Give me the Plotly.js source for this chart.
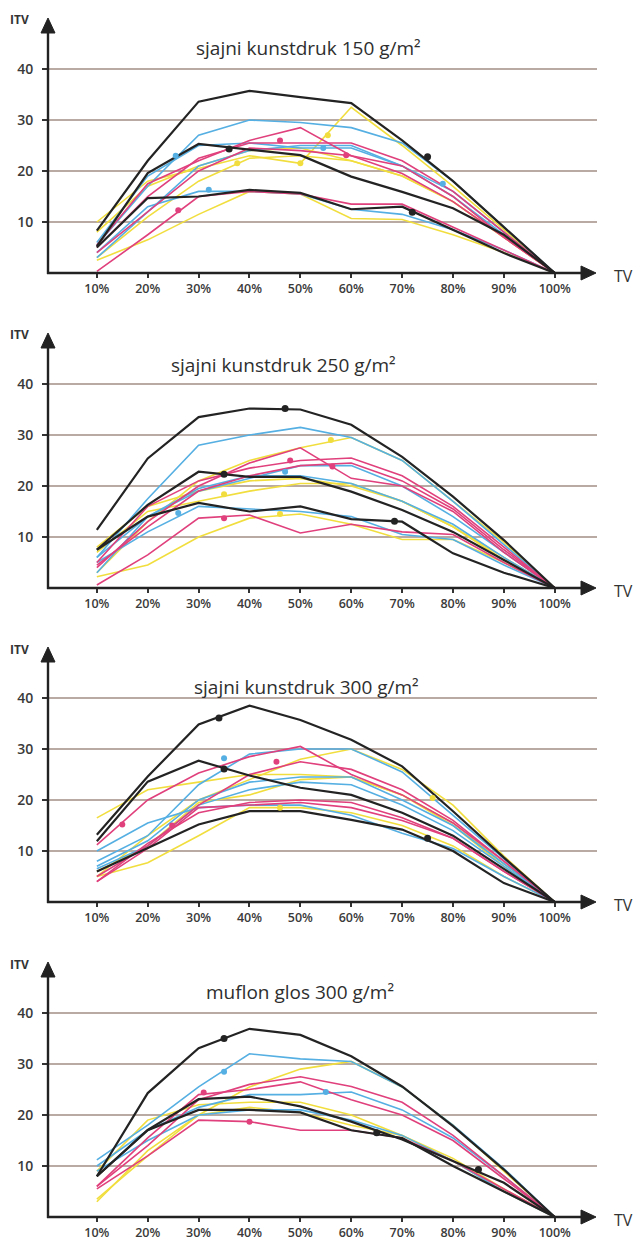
<!DOCTYPE html>
<html>
<head>
<meta charset="utf-8">
<script src="https://cdn.plot.ly/plotly-3.0.1.min.js"></script>
<style>html,body{margin:0;padding:0;background:#fff;}#chart{width:634px;height:1241px;}</style>
</head>
<body>
<div id="chart"></div>
<script>
// ---------- DATA ----------
const tvLevels = [10, 20, 30, 40, 50, 60, 70, 80, 90, 100];
const tvTickText = ['10%', '20%', '30%', '40%', '50%', '60%', '70%', '80%', '90%', '100%'];
const itvTicks = [10, 20, 30, 40];
const panelTitles = [
  'sjajni kunstdruk 150 g/m²',
  'sjajni kunstdruk 250 g/m²',
  'sjajni kunstdruk 300 g/m²',
  'muflon glos 300 g/m²'
];

// Panel 1 - sjajni kunstdruk 150 g/m2
const p1Black = [
  [8.3, 22, 33.6, 35.7, 34.5, 33.3, 26, 18, 9, 0],
  [5.2, 19.6, 25.3, 24.2, 23.1, 18.9, 15.9, 12.7, 7.5, 0],
  [5, 14.7, 15, 16.3, 15.7, 12.5, 13, 8.4, 3.9, 0]
];
const p1Cyan = [
  [5.5, 17, 27, 30, 29.5, 28.5, 25.5, 18, 9, 0],
  [6, 19, 25, 25.5, 24.5, 24.5, 21, 16, 8, 0],
  [4, 13, 16, 16, 15.5, 12.5, 11.5, 8.5, 4.5, 0],
  [3, 12, 21, 24, 25, 25, 21, 15, 7.5, 0]
];
const p1Magenta = [
  [5.5, 17.5, 22, 26, 28.5, 23, 21, 15, 7, 0],
  [5, 15, 22.5, 25.5, 25.5, 25.5, 22, 16, 8, 0],
  [0.3, 7.5, 15, 16, 15.5, 13.5, 13.5, 9, 4.5, 0],
  [4, 12, 20, 24.5, 24, 23, 19.5, 14, 7, 0]
];
const p1Yellow = [
  [10, 18, 20.5, 23, 21.5, 32.5, 25, 17, 8.5, 0],
  [3, 11, 18, 22.5, 23, 22, 19, 14, 7, 0],
  [2.5, 6.5, 11.5, 16, 15.5, 10.7, 10.5, 7.5, 4, 0],
  [8, 17, 21, 24, 24.5, 22, 19, 14, 7, 0]
];
const p1Marks = [['k', 36, 24.3], ['k', 75, 22.8], ['k', 72, 11.9], ['c', 25.5, 23], ['c', 32, 16.3],
  ['c', 54.5, 24.5], ['c', 78, 17.5], ['m', 46, 26], ['m', 59, 23.1], ['m', 26, 12.3],
  ['y', 55.4, 27], ['y', 37.6, 21.5], ['y', 50, 21.5]];

// Panel 2 - sjajni kunstdruk 250 g/m2
const p2Black = [
  [11.4, 25.4, 33.5, 35.2, 35, 32, 25.7, 17.9, 9.4, 0],
  [7.5, 16.3, 22.8, 21.8, 21.8, 18.9, 15.3, 11, 5.5, 0],
  [7.5, 14, 16.7, 15, 16, 13.5, 13, 6.8, 3, 0]
];
const p2Cyan = [
  [6, 17.5, 28, 30, 31.5, 29.5, 25, 17, 8.5, 0],
  [6, 14, 19, 21.5, 24, 24, 20, 14, 7, 0],
  [5, 11, 16, 15.5, 15, 14, 10.5, 9.5, 4.5, 0],
  [3, 14, 19.5, 22, 22, 20.5, 17, 12.5, 6, 0]
];
const p2Magenta = [
  [4, 13, 20, 24.5, 27.5, 21.5, 20, 15, 7, 0],
  [5, 16, 21, 23.5, 25, 25.5, 22, 16, 8, 0],
  [0.6, 6.5, 13.7, 14.3, 10.8, 12.5, 11, 10.5, 5, 0],
  [4.5, 12, 19, 22, 24, 24.5, 21, 15.5, 7.5, 0]
];
const p2Yellow = [
  [3, 13, 21, 25, 27.5, 29.5, 25, 17, 9, 0],
  [7, 15, 17, 19, 20.5, 20.5, 17, 12, 6, 0],
  [2.2, 4.5, 10, 13.7, 14.5, 12.5, 9.5, 9.5, 5, 0],
  [8, 16, 19, 21, 21.5, 20, 17, 12, 5.5, 0]
];
const p2Marks = [['k', 47, 35.2], ['k', 35, 22.3], ['k', 68.5, 13.1], ['c', 47, 22.8], ['c', 26, 14.7],
  ['m', 48, 25], ['m', 56.3, 23.8], ['m', 35, 13.7], ['y', 56, 29], ['y', 35, 18.4], ['y', 46, 14.5]];

// Panel 3 - sjajni kunstdruk 300 g/m2
const p3Black = [
  [13.2, 24.6, 34.8, 38.5, 35.7, 31.8, 26.6, 17.8, 8.7, 0],
  [11.9, 23.6, 27.7, 24.8, 22.4, 21, 17.5, 13, 6.5, 0],
  [6, 10.6, 15.2, 17.8, 17.8, 16.1, 14.2, 10, 3.7, 0]
];
const p3Cyan = [
  [8, 13, 23, 29, 30, 30, 25.5, 17, 8.5, 0],
  [7, 12, 20, 23.5, 24.5, 24.5, 20, 15, 7.5, 0],
  [10, 15.5, 18.5, 19, 19, 17, 13.5, 10.5, 5, 0],
  [6.5, 11, 19, 22, 23.5, 23, 19, 14, 7, 0]
];
const p3Magenta = [
  [11.2, 20, 25.3, 28.5, 30.5, 25, 21, 15.5, 8, 0],
  [5, 11, 19, 25, 27.5, 26, 22, 16, 8, 0],
  [4, 10.5, 18.5, 19, 19.5, 18.5, 16, 12.5, 6, 0],
  [4, 11.5, 17.5, 19.5, 20, 19.5, 16.5, 12.5, 6, 0]
];
const p3Yellow = [
  [5, 13, 20, 24, 28, 30, 26, 19, 9, 0],
  [16.5, 22, 23.5, 25, 25, 24.5, 21, 15, 7, 0],
  [5, 7.7, 13, 18.5, 18.5, 17.5, 15, 11, 5, 0],
  [6, 11, 19.5, 21, 24, 24.5, 21, 15.5, 7.5, 0]
];
const p3Marks = [['k', 34, 36.1], ['k', 35, 26.1], ['k', 75, 12.5], ['c', 35, 28.2], ['m', 15, 15.2],
  ['m', 45.3, 27.5], ['m', 24.8, 15], ['y', 76, 20.4], ['y', 46, 18.5]];

// Panel 4 - muflon glos 300 g/m2
const p4Black = [
  [8, 24.3, 33.1, 36.9, 35.7, 31.5, 25.6, 17.8, 9.3, 0],
  [8, 17.1, 23.1, 23.6, 21.7, 18.7, 15.2, 10.9, 6.7, 0],
  [8, 17, 21, 21, 20.5, 17, 15.5, 10, 5, 0]
];
const p4Cyan = [
  [11.2, 18, 25.5, 32, 31, 30.5, 25.5, 18, 9.5, 0],
  [10, 17, 21.5, 24, 24, 24.5, 21, 15.5, 8, 0],
  [9, 15, 20, 21, 21, 19, 16, 11, 5, 0]
];
const p4Magenta = [
  [6, 14, 23, 26, 27.5, 25.6, 22.5, 16, 8, 0],
  [6, 15.5, 24, 25, 26.5, 23, 20, 15, 7.5, 0],
  [5.5, 12, 19, 18.7, 17, 17, 15.5, 11, 5.5, 0]
];
const p4Yellow = [
  [3.5, 12, 20, 25.5, 29, 30.5, 25.5, 18, 9, 0],
  [3, 13, 20, 21.5, 20.5, 18, 16, 11.5, 5.5, 0],
  [9, 19, 22, 22.5, 22.5, 20, 16, 11, 5, 0]
];
const p4Marks = [['k', 35, 35], ['k', 65, 16.5], ['k', 85, 9.3], ['c', 35, 28.5], ['c', 55, 24.5],
  ['m', 31, 24.4], ['m', 40, 18.7]];

// ---------- STYLE / LAYOUT ----------
const W = 634, H = 1241;
const colors = {k: '#232323', c: '#55afe2', m: '#e0407c', y: '#f1de3e'};
const lineWidths = {k: 2.2, c: 1.6, m: 1.6, y: 1.6};
const zeroPx = [273, 588, 902, 1217];
const plotHpx = 255;
const xLeftPx = 48, xRightPx = 597;
const xRange = [0.4, 108.3];
const yRange = [0, 50];
const titlePos = [[308, 48], [283, 365], [306, 687], [300, 992]];
const FONT = 'Open Sans, Noto Sans, sans-serif';
const AXIS_COLOR = '#222';

const panels = [
  {title: panelTitles[0], k: p1Black, c: p1Cyan, m: p1Magenta, y: p1Yellow, marks: p1Marks},
  {title: panelTitles[1], k: p2Black, c: p2Cyan, m: p2Magenta, y: p2Yellow, marks: p2Marks},
  {title: panelTitles[2], k: p3Black, c: p3Cyan, m: p3Magenta, y: p3Yellow, marks: p3Marks},
  {title: panelTitles[3], k: p4Black, c: p4Cyan, m: p4Magenta, y: p4Yellow, marks: p4Marks}
];

const traces = [];
const layout = {
  width: W, height: H,
  margin: {l: 0, r: 0, t: 0, b: 0},
  paper_bgcolor: '#ffffff', plot_bgcolor: '#ffffff',
  showlegend: false,
  font: {family: FONT, color: '#333'},
  annotations: [],
  shapes: []
};

// pixel -> paper helpers for decoration shapes
const px = v => v / W;
const py = v => 1 - v / H;

panels.forEach((p, i) => {
  const s = i === 0 ? '' : String(i + 1);
  const xa = 'x' + s, ya = 'y' + s;
  ['y', 'c', 'm', 'k'].forEach(key => {
    p[key].forEach(vals => {
      traces.push({
        type: 'scatter', mode: 'lines', x: tvLevels, y: vals,
        xaxis: xa, yaxis: ya, hoverinfo: 'skip',
        line: {color: colors[key], width: lineWidths[key]}
      });
    });
  });
  ['y', 'c', 'm', 'k'].forEach(key => {
    const pts = p.marks.filter(mk => mk[0] === key);
    if (!pts.length) return;
    traces.push({
      type: 'scatter', mode: 'markers', x: pts.map(d => d[1]), y: pts.map(d => d[2]),
      xaxis: xa, yaxis: ya, hoverinfo: 'skip',
      marker: {color: colors[key], size: key === 'k' ? 7 : 6}
    });
  });

  const z = zeroPx[i];
  const top = z - plotHpx;
  layout['xaxis' + s] = {
    domain: [xLeftPx / W, xRightPx / W], range: xRange, anchor: ya,
    tickmode: 'array', tickvals: tvLevels, ticktext: tvTickText,
    ticks: 'outside', ticklen: 4, tickwidth: 2, tickcolor: '#333',
    showgrid: false, zeroline: false, showline: false, fixedrange: true,
    tickfont: {family: FONT, size: 12.5, color: '#3a3a3a', weight: 600}
  };
  layout['yaxis' + s] = {
    domain: [(H - z) / H, (H - z + plotHpx) / H], range: yRange, anchor: xa,
    tickmode: 'array', tickvals: itvTicks,
    ticks: 'outside', ticklen: 5, tickwidth: 2, tickcolor: '#333',
    ticklabelstandoff: 6,
    showgrid: true, gridcolor: '#b9aba3', gridwidth: 2,
    zeroline: false, showline: false, fixedrange: true,
    tickfont: {family: FONT, size: 14, color: '#3a3a3a', weight: 600}
  };

  // axis lines with arrowheads (decoration, in paper coords)
  layout.shapes.push({
    type: 'line', xref: 'paper', yref: 'paper',
    x0: px(xLeftPx), y0: py(z + 1), x1: px(xLeftPx), y1: py(top + 10),
    line: {color: AXIS_COLOR, width: 2.4}
  });
  layout.shapes.push({
    type: 'path', xref: 'paper', yref: 'paper',
    path: 'M ' + px(xLeftPx) + ' ' + py(top) + ' L ' + px(xLeftPx - 7) + ' ' + py(top + 15) +
          ' L ' + px(xLeftPx + 7) + ' ' + py(top + 15) + ' Z',
    fillcolor: AXIS_COLOR, line: {color: AXIS_COLOR, width: 1}
  });
  layout.shapes.push({
    type: 'line', xref: 'paper', yref: 'paper',
    x0: px(xLeftPx - 1), y0: py(z), x1: px(xRightPx - 8), y1: py(z),
    line: {color: AXIS_COLOR, width: 2.4}
  });
  layout.shapes.push({
    type: 'path', xref: 'paper', yref: 'paper',
    path: 'M ' + px(xRightPx - 1) + ' ' + py(z) + ' L ' + px(xRightPx - 16) + ' ' + py(z - 7) +
          ' L ' + px(xRightPx - 16) + ' ' + py(z + 7) + ' Z',
    fillcolor: AXIS_COLOR, line: {color: AXIS_COLOR, width: 1}
  });

  // panel title
  layout.annotations.push({
    xref: 'paper', yref: 'paper', x: titlePos[i][0] / W, y: 1 - titlePos[i][1] / H,
    xanchor: 'center', yanchor: 'middle', showarrow: false, text: p.title,
    font: {family: FONT, size: 19, color: '#2e2e2e'}
  });
  // ITV label
  layout.annotations.push({
    xref: 'paper', yref: 'paper', x: 8 / W, y: 1 - (top + 2) / H,
    xanchor: 'left', yanchor: 'middle', showarrow: false, text: 'ITV',
    font: {family: FONT, size: 12, color: '#333', weight: 700}
  });
  // TV label
  layout.annotations.push({
    xref: 'paper', yref: 'paper', x: 612 / W, y: 1 - (z + 3) / H,
    xanchor: 'left', yanchor: 'middle', showarrow: false, text: 'TV',
    font: {family: FONT, size: 16, color: '#333'}
  });
});

Plotly.newPlot('chart', traces, layout, {displayModeBar: false, staticPlot: true}).then(gd => {
  // drop empty placeholder text nodes (unused axis titles)
  gd.querySelectorAll('text').forEach(t => {
    if (!t.textContent || !t.textContent.trim()) t.remove();
  });
});
</script>
</body>
</html>
